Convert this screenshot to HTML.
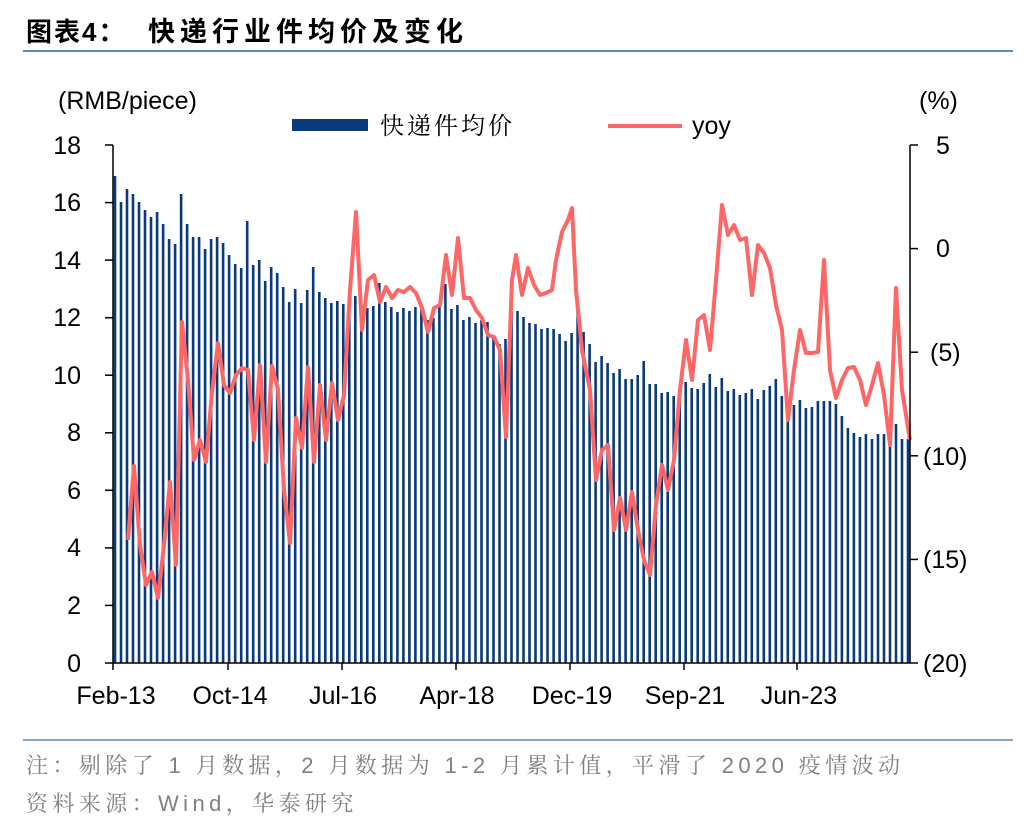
<!DOCTYPE html>
<html><head><meta charset="utf-8"><style>
html,body{margin:0;padding:0;background:#fff;}
body{width:1036px;height:828px;overflow:hidden;position:relative;}
svg{position:absolute;left:0;top:0;}
</style></head><body>
<svg id="s" width="1036" height="828" viewBox="0 0 1036 828" xmlns="http://www.w3.org/2000/svg" font-family="Liberation Sans, Noto Sans CJK SC, sans-serif">
<text x="26" y="41" font-size="26" font-weight="bold" font-family="Liberation Sans, Noto Sans CJK SC, sans-serif" letter-spacing="2">图表4：</text>
<text x="148" y="41" font-size="27" font-weight="bold" font-family="Liberation Sans, Noto Sans CJK SC, sans-serif" letter-spacing="5">快递行业件均价及变化</text>
<line x1="23" y1="51" x2="1013" y2="51" stroke="#5b86b7" stroke-width="2"/>
<text x="58" y="109" font-size="25">(RMB/piece)</text>
<text x="919" y="109" font-size="25">(%)</text>
<rect x="292" y="119" width="76" height="12" fill="#0b3a7a"/>
<text x="380" y="134" font-size="24" font-family="Noto Serif CJK SC, serif" letter-spacing="3">快递件均价</text>
<line x1="608" y1="126" x2="682" y2="126" stroke="#ff6666" stroke-width="4"/>
<text x="692" y="134" font-size="25">yoy</text>
<g id="bars" fill="#0b3a7a"></g>
<polyline id="ln" fill="none" stroke="#ff6666" stroke-width="4" stroke-linejoin="round"/>
<g stroke="#000" stroke-width="1.5">
<line x1="113" y1="145" x2="113" y2="663"/>
<line x1="910" y1="145" x2="910" y2="663"/>
<line x1="105" y1="663" x2="918" y2="663"/>
<line x1="105" y1="145" x2="113" y2="145"/><line x1="105" y1="202.6" x2="113" y2="202.6"/><line x1="105" y1="260.1" x2="113" y2="260.1"/><line x1="105" y1="317.7" x2="113" y2="317.7"/><line x1="105" y1="375.2" x2="113" y2="375.2"/><line x1="105" y1="432.8" x2="113" y2="432.8"/><line x1="105" y1="490.3" x2="113" y2="490.3"/><line x1="105" y1="547.9" x2="113" y2="547.9"/><line x1="105" y1="605.4" x2="113" y2="605.4"/>
<line x1="910" y1="145" x2="918" y2="145"/><line x1="910" y1="248.6" x2="918" y2="248.6"/><line x1="910" y1="352.2" x2="918" y2="352.2"/><line x1="910" y1="455.8" x2="918" y2="455.8"/><line x1="910" y1="559.4" x2="918" y2="559.4"/>
<line x1="113" y1="663" x2="113" y2="670"/><line x1="228" y1="663" x2="228" y2="670"/><line x1="342" y1="663" x2="342" y2="670"/><line x1="456" y1="663" x2="456" y2="670"/><line x1="570" y1="663" x2="570" y2="670"/><line x1="684" y1="663" x2="684" y2="670"/><line x1="797" y1="663" x2="797" y2="670"/>
</g>
<g font-size="25" text-anchor="end">
<text x="81" y="154">18</text><text x="81" y="211">16</text><text x="81" y="269">14</text><text x="81" y="326">12</text><text x="81" y="384">10</text><text x="81" y="441">8</text><text x="81" y="499">6</text><text x="81" y="556">4</text><text x="81" y="614">2</text><text x="81" y="672">0</text>
</g>
<g font-size="25">
<text x="936" y="154">5</text><text x="936" y="257">0</text><text x="930" y="361">(5)</text><text x="923" y="465">(10)</text><text x="923" y="568">(15)</text><text x="923" y="672">(20)</text>
</g>
<g font-size="25" text-anchor="middle">
<text x="116" y="704">Feb-13</text><text x="230" y="704">Oct-14</text><text x="343" y="704">Jul-16</text><text x="457" y="704">Apr-18</text><text x="572" y="704">Dec-19</text><text x="685" y="704">Sep-21</text><text x="799" y="704">Jun-23</text>
</g>
<line x1="23" y1="740" x2="1013" y2="740" stroke="#5b86b7" stroke-width="1.5"/>
<text x="26" y="773" font-size="22" fill="#808080" letter-spacing="4.4" font-family="Liberation Sans, Noto Serif CJK SC, serif">注：剔除了 1 月数据，2 月数据为 1-2 月累计值，平滑了 2020 疫情波动</text>
<text x="26" y="811" font-size="22" fill="#808080" letter-spacing="4.4" font-family="Liberation Sans, Noto Serif CJK SC, serif">资料来源：Wind，华泰研究</text>
</svg>
<script>
var t=[176,202,189,194,202,210,217,212,224,239,244,194,224,237,237,249,239,237,243,255,264,268,221,265,260,281,267,273,287,302,289,303,290,267,292,298,303,301,304,301,296,305,308,306,283,
302,307,312,308,311,307,307,320,318,307,284,309,305,320,317,323,320,322,335,344,339,312,311,317,323,324,329,328,329,334,341,333,308,332,344,362,356,363,373,369,379,379,375,
361,384,384,393,392,396,398,382,388,389,383,374,387,378,391,389,395,393,389,399,390,386,379,396,398,405,400,408,407,401,401,401,404,416,428,433,437,434,439,434,434,436,424,439,439];
var g=document.getElementById('bars'),ns='http://www.w3.org/2000/svg';
var n=t.length,step=(908-115)/(n-1);
for(var i=0;i<n;i++){var r=document.createElementNS(ns,'rect');var x=115+i*step;
r.setAttribute('x',(x-1.3).toFixed(1));r.setAttribute('y',t[i]);r.setAttribute('width','2.6');r.setAttribute('height',663-t[i]);g.appendChild(r);}
var p="128,540 134,466 140,545 146,585 152,572 158,598 164,545 170,482 176,565 182,322 188,380 194,460 200,440 206,462 212,392 218,343 224,385 230,393 236,375 242,368 248,370 254,440 260,365 266,462 272,366 278,390 284,490 290,543 296,418 302,448 308,367 314,462 320,385 326,440 332,383 338,420 344,395 350,290 356,212 362,330 368,280 374,275 380,302 386,287 392,298 398,290 404,292 410,287 416,293 422,308 428,332 434,308 440,305 446,255 452,295 458,238 464,298 470,298 476,310 482,318 488,335 494,337 500,350 506,437 512,280 516,255 522,295 528,268 534,285 540,295 546,293 552,290 556,260 562,232 568,220 572,208 576,290 582,350 590,390 596,480 602,450 608,445 614,530 620,498 626,530 632,492 638,530 644,560 650,575 656,505 662,465 668,490 674,460 680,390 686,340 692,380 698,320 704,315 710,350 716,280 722,205 728,235 734,225 740,240 746,238 752,295 758,245 764,253 770,268 776,305 782,330 788,420 794,370 800,330 806,353 812,353 818,352 824,260 830,370 836,398 842,380 848,368 854,367 860,380 866,405 872,385 878,363 884,395 890,445 896,288 902,390 910,440";
document.getElementById('ln').setAttribute('points',p);
</script>
</body></html>
